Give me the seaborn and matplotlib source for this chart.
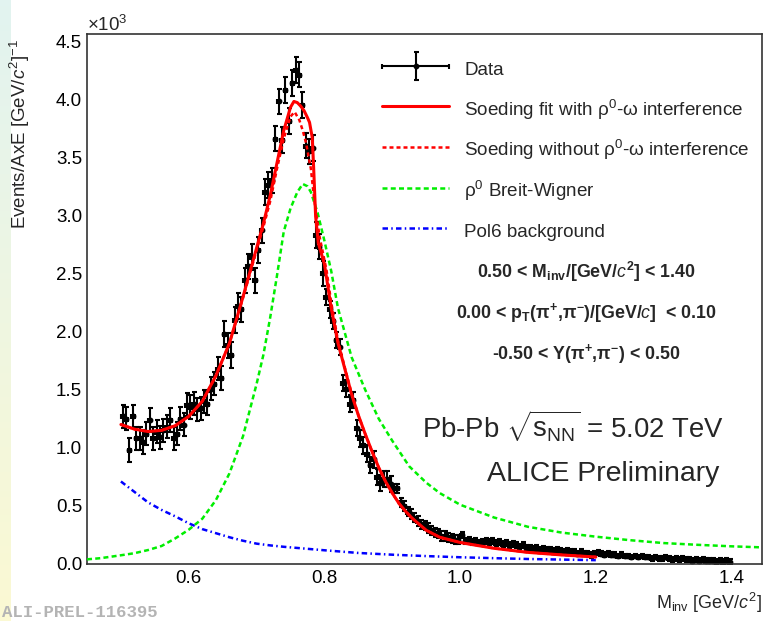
import numpy as np
import matplotlib
matplotlib.use("Agg")
import matplotlib.pyplot as plt
import seaborn as sns
from matplotlib.container import ErrorbarContainer
from matplotlib.legend_handler import HandlerErrorbar

# ---- data (y in units of 10^3) ----
bin_lo, bin_hi, bin_w = 0.50, 1.40, 0.005
mass = np.arange(bin_lo + bin_w / 2, bin_hi, bin_w)

counts = [
    1.27, 1.25, 0.98, 1.27, 1.08, 1.08, 1.05, 1.12, 1.24, 1.08,
    1.14, 1.09, 1.15, 1.18, 1.24, 1.08, 1.12, 1.25, 1.20, 1.37,
    1.35, 1.38, 1.33, 1.34, 1.40, 1.38, 1.51, 1.55, 1.68, 1.60,
    1.98, 1.88, 1.80, 2.10, 2.22, 2.19, 2.44, 2.56, 2.64, 2.44,
    2.70, 2.87, 3.20, 3.26, 3.30, 3.66, 3.98, 3.65, 4.08, 3.81,
    4.14, 4.25, 4.21, 3.95, 3.60, 3.55, 3.58, 2.83, 2.73, 2.50,
    2.30, 2.19, 2.09, 1.93, 1.87, 1.56, 1.51, 1.38, 1.41, 1.17,
    1.08, 1.02, 0.95, 0.85, 0.90, 0.75, 0.70, 0.73, 0.73, 0.69,
    0.65, 0.65, 0.53, 0.50, 0.45, 0.43, 0.40, 0.37, 0.34, 0.33,
    0.31, 0.29, 0.27, 0.26, 0.24, 0.24, 0.23, 0.22, 0.21, 0.21,
    0.25, 0.20, 0.21, 0.19, 0.20, 0.18, 0.19, 0.20, 0.19, 0.20,
    0.18, 0.19, 0.17, 0.18, 0.16, 0.17, 0.16, 0.15, 0.16, 0.14,
    0.14, 0.13, 0.14, 0.12, 0.13, 0.12, 0.12, 0.11, 0.12, 0.11,
    0.10, 0.11, 0.10, 0.10, 0.09, 0.10, 0.09, 0.09, 0.08, 0.09,
    0.10, 0.09, 0.08, 0.09, 0.08, 0.08, 0.07, 0.08, 0.07, 0.07,
    0.06, 0.07, 0.06, 0.07, 0.06, 0.06, 0.05, 0.06, 0.05, 0.05,
    0.06, 0.05, 0.04, 0.05, 0.04, 0.05, 0.04, 0.04, 0.03, 0.04,
    0.03, 0.04, 0.03, 0.03, 0.03, 0.02, 0.03, 0.02, 0.03, 0.02,
]
errors = [0.10] * 30 + [0.11] * 30 + [0.07] * 20 + [0.04] * 20 + [0.025] * 40 + [0.02] * 40

# Soeding fit with rho-omega interference
fit_x = [0.50, 0.52, 0.54, 0.56, 0.58, 0.60, 0.62, 0.64, 0.66, 0.68,
         0.70, 0.71, 0.72, 0.73, 0.74, 0.75, 0.755, 0.76, 0.765, 0.77,
         0.775, 0.778, 0.782, 0.784, 0.787, 0.791, 0.80, 0.81, 0.82, 0.83,
         0.84, 0.85, 0.86, 0.87, 0.88, 0.89, 0.90, 0.91, 0.92, 0.93,
         0.94, 0.95, 0.97, 1.00, 1.05, 1.10, 1.15, 1.20]
fit_y = [1.20, 1.16, 1.14, 1.15, 1.19, 1.27, 1.40, 1.62, 1.90, 2.30,
         2.72, 2.93, 3.17, 3.45, 3.73, 3.93, 3.98, 3.97, 3.94, 3.90,
         3.84, 3.80, 3.67, 3.42, 2.99, 2.76, 2.58, 2.20, 1.90, 1.68,
         1.46, 1.28, 1.12, 0.97, 0.83, 0.71, 0.61, 0.52, 0.45, 0.39,
         0.34, 0.29, 0.23, 0.185, 0.135, 0.10, 0.078, 0.06]

# Soeding without interference
noint_x = [0.50, 0.52, 0.54, 0.56, 0.58, 0.60, 0.62, 0.64, 0.66, 0.68,
           0.70, 0.71, 0.72, 0.73, 0.74, 0.75, 0.756, 0.763, 0.768, 0.773,
           0.78, 0.785, 0.793, 0.803, 0.81, 0.82, 0.83, 0.84, 0.85, 0.86,
           0.87, 0.88, 0.89, 0.90, 0.91, 0.92, 0.93, 0.94, 0.95, 0.97,
           1.00, 1.05, 1.10, 1.15, 1.20]
noint_y = [1.20, 1.16, 1.14, 1.15, 1.19, 1.27, 1.40, 1.62, 1.90, 2.29,
           2.70, 2.90, 3.12, 3.40, 3.66, 3.85, 3.89, 3.82, 3.73, 3.62,
           3.40, 3.13, 2.81, 2.53, 2.25, 1.92, 1.69, 1.47, 1.28, 1.12,
           0.97, 0.83, 0.71, 0.61, 0.52, 0.45, 0.39, 0.34, 0.29, 0.23,
           0.185, 0.135, 0.10, 0.078, 0.06]

# rho0 Breit-Wigner
bw_x = [0.45, 0.47, 0.50, 0.52, 0.54, 0.56, 0.58, 0.60, 0.62, 0.64,
        0.66, 0.68, 0.70, 0.71, 0.72, 0.73, 0.74, 0.75, 0.76, 0.768,
        0.775, 0.78, 0.79, 0.80, 0.81, 0.82, 0.84, 0.86, 0.88, 0.90,
        0.925, 0.95, 0.97, 1.00, 1.05, 1.10, 1.15, 1.20, 1.25, 1.30,
        1.35, 1.40, 1.445]
bw_y = [0.04, 0.05, 0.075, 0.093, 0.12, 0.155, 0.22, 0.295, 0.39, 0.55,
        0.78, 1.10, 1.55, 1.80, 2.12, 2.48, 2.86, 3.06, 3.20, 3.27,
        3.25, 3.20, 3.02, 2.78, 2.52, 2.20, 1.78, 1.50, 1.25, 1.06,
        0.84, 0.70, 0.61, 0.51, 0.40, 0.32, 0.27, 0.235, 0.205, 0.18,
        0.165, 0.152, 0.143]

# Pol6 background
bkg_x = [0.50, 0.52, 0.54, 0.56, 0.58, 0.60, 0.62, 0.64, 0.66, 0.68,
         0.70, 0.72, 0.74, 0.76, 0.80, 0.85, 0.90, 0.95, 1.00, 1.05,
         1.10, 1.15, 1.20]
bkg_y = [0.71, 0.62, 0.53, 0.465, 0.41, 0.35, 0.30, 0.265, 0.23, 0.20,
         0.175, 0.16, 0.148, 0.138, 0.118, 0.095, 0.08, 0.068, 0.058, 0.05,
         0.043, 0.038, 0.033]

# ---- style ----
sns.set_theme(style="white")
plt.rcParams["font.family"] = ["Liberation Sans", "DejaVu Sans"]
plt.rcParams["mathtext.fontset"] = "custom"
plt.rcParams["mathtext.rm"] = "Liberation Sans"
plt.rcParams["mathtext.it"] = "Liberation Sans:italic"
plt.rcParams["mathtext.bf"] = "Liberation Sans:bold"
plt.rcParams["mathtext.default"] = "regular"

fig = plt.figure(figsize=(7.68, 6.21), dpi=100)

# pale strip at the left edge of the slide
strip = fig.add_axes([0, 0, 0.014, 1])
grad = np.linspace(0, 1, 100).reshape(-1, 1)
strip.imshow(grad, aspect="auto", cmap=matplotlib.colors.LinearSegmentedColormap.from_list(
    "strip", ["#e2f3f0", "#fbf9d3"]))
strip.axis("off")

ax = fig.add_axes([0.1133, 0.0918, 0.8789, 0.8534])

data = ax.errorbar(mass, counts, yerr=errors, xerr=bin_w / 2, fmt="o", ms=3.2,
                   color="black", ecolor="black", elinewidth=1.5, capsize=1.8,
                   capthick=1.5, zorder=2)

sns.lineplot(x=bkg_x, y=bkg_y, ax=ax, color="#0000ff", lw=1.8,
             linestyle=(0, (2.2, 1.3, 0.6, 1.3)), sort=False, estimator=None, zorder=3)
sns.lineplot(x=bw_x, y=bw_y, ax=ax, color="#00ee00", lw=1.8,
             linestyle=(0, (2.0, 1.3)), sort=False, estimator=None, zorder=3)
sns.lineplot(x=fit_x, y=fit_y, ax=ax, color="#ff0000", lw=2.2,
             sort=False, estimator=None, zorder=4)
sns.lineplot(x=noint_x, y=noint_y, ax=ax, color="#ff0000", lw=1.8,
             linestyle=(0, (1.6, 1.2)), sort=False, estimator=None, zorder=5)

lines = ax.get_lines()
h_bkg, h_bw, h_fit, h_noint = lines[-4], lines[-3], lines[-2], lines[-1]

ax.set_xlim(0.45, 1.445)
ax.set_ylim(0, 4.56)
ax.set_xticks([0.6, 0.8, 1.0, 1.2, 1.4])
ax.set_xticks(np.arange(0.45, 1.45, 0.05), minor=True)
ax.set_yticks(np.arange(0, 4.51, 0.5))
ax.set_yticks(np.arange(0, 4.56, 0.1), minor=True)
ax.xaxis.set_major_formatter(matplotlib.ticker.FormatStrFormatter("%.1f"))
ax.yaxis.set_major_formatter(matplotlib.ticker.FormatStrFormatter("%.1f"))
ax.tick_params(which="both", direction="in", top=False, right=False,
               color="#333333", width=1.1, labelsize=13.5, labelcolor="black")
ax.tick_params(axis="y", which="major", length=14, pad=3.6)
ax.tick_params(axis="y", which="minor", length=7)
ax.tick_params(axis="x", which="major", length=11, pad=4.5)
ax.tick_params(axis="x", which="minor", length=5.5)
for sp in ax.spines.values():
    sp.set_color("#333333")
    sp.set_linewidth(1.2)

ax.set_ylabel(r"Events/AxE [GeV/$\mathit{c}^{2}$]$^{-1}$", loc="top", fontsize=13.5)
ax.yaxis.set_label_coords(-0.0815, 0.99)
ax.set_xlabel(r"M$_{inv}$ [GeV/$\mathit{c}^{2}$]", loc="right", fontsize=13)
ax.xaxis.set_label_coords(1.0, -0.05)

fig.text(87 / 768, 1 - 31 / 621, "×10$^{3}$", fontsize=13.5, va="baseline")

leg = ax.legend(
    [data, h_fit, h_noint, h_bw, h_bkg],
    ["Data",
     r"Soeding fit with ρ$^{0}$-ω interference",
     r"Soeding without ρ$^{0}$-ω interference",
     r"ρ$^{0}$ Breit-Wigner",
     "Pol6 background"],
    loc="upper left", bbox_to_anchor=(0.437, 0.957), frameon=False,
    fontsize=13.6, handlelength=3.55, handleheight=1.6, handletextpad=0.8,
    labelspacing=0.86, borderpad=0, borderaxespad=0,
    handler_map={ErrorbarContainer: HandlerErrorbar(xerr_size=1.75, yerr_size=0.72)})

cuts = [r"0.50 < M$_{inv}$/[GeV/$\mathit{c}^{2}$] < 1.40",
        r"0.00 < p$_{T}$(π$^{+}$,π$^{-}$)/[GeV/$\mathit{c}$]  < 0.10",
        r"-0.50 < Y(π$^{+}$,π$^{-}$) < 0.50"]
for txt, yb in zip(cuts, [278, 318, 359]):
    fig.text(586 / 768, 1 - yb / 621, txt, ha="center", va="baseline",
             fontsize=12.8, fontweight="bold")

fig.text(573 / 768, 1 - 438 / 621, r"Pb-Pb $\sqrt{s_{NN}}$ = 5.02 TeV",
         ha="center", va="baseline", fontsize=19.8)
fig.text(603 / 768, 1 - 481 / 621, "ALICE Preliminary",
         ha="center", va="baseline", fontsize=20.5)

fig.text(2 / 768, 1 - 617 / 621, "ALI-PREL-116395", family="Liberation Mono",
         fontweight="bold", color="#b4b4b4", fontsize=12.5, va="baseline", zorder=10)

fig.savefig("out.png", dpi=100)
